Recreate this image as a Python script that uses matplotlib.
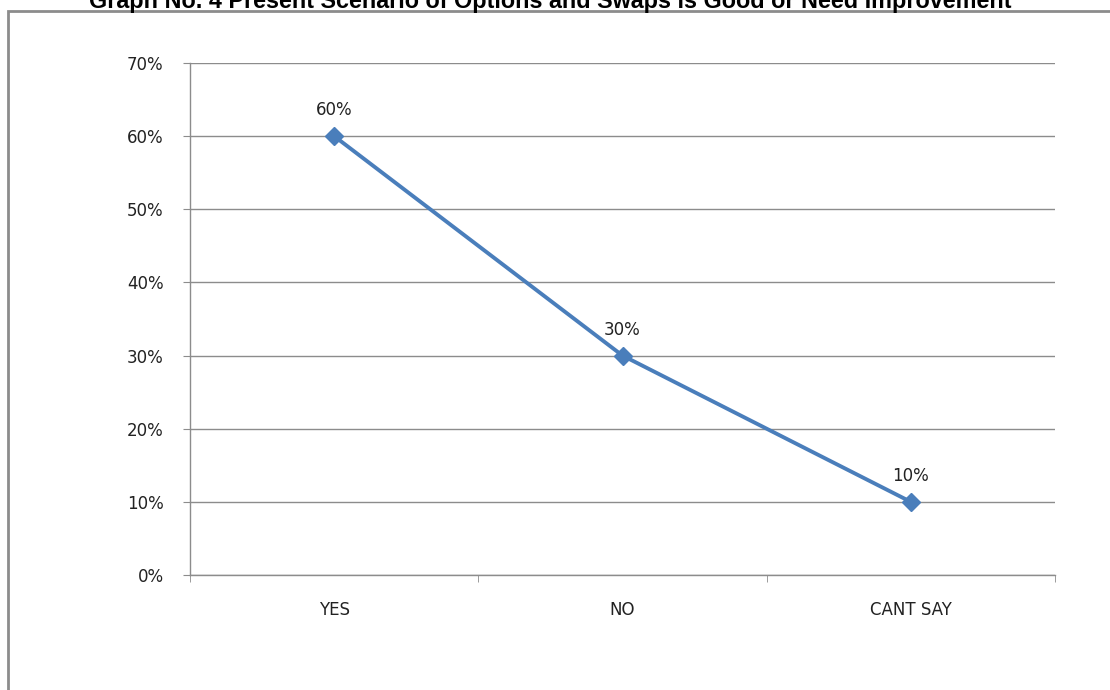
import matplotlib
matplotlib.use("Agg")
import matplotlib.pyplot as plt
from matplotlib.patches import Rectangle
from matplotlib.ticker import FixedLocator, PercentFormatter

categories = ["YES", "NO", "CANT SAY"]
values = [60, 30, 10]
y_ticks = [0, 10, 20, 30, 40, 50, 60, 70]
title = "Graph No. 4 Present Scenario of Options and Swaps is Good or Need Improvement"

W, H = 1110, 690
LABEL_FONT = "DejaVu Sans"
fig = plt.figure(figsize=(W / 100, H / 100), dpi=100)

# outer chart frame (extends past right and bottom edges)
fig.patches.append(Rectangle((8 / W, -0.1), 1.2, 1 - 11 / H + 0.1,
                             transform=fig.transFigure, fill=False,
                             edgecolor="#8c8c8c", linewidth=2, zorder=0))

fig.text(550 / W, 1 - 8 / H, title, ha="center", va="baseline",
         fontsize=16.8, fontweight="bold", family="Liberation Sans", color="black")

ax = fig.add_axes([190 / W, 1 - 575 / H, (1055 - 190) / W, (575 - 63) / H])
x = list(range(len(categories)))
ax.plot(x, values, color="#4a7ebb", linewidth=2.8, marker="D", markersize=9,
        markeredgecolor="#4a7ebb", zorder=3, clip_on=False)
for xi, v in zip(x, values):
    ax.annotate(f"{v}%", (xi, v), xytext=(0, 12), textcoords="offset points",
                ha="center", va="bottom", fontsize=12, family=LABEL_FONT,
                color="#222222")

ax.set_xlim(-0.5, len(categories) - 0.5)
ax.set_ylim(0, 70)
ax.yaxis.set_major_locator(FixedLocator(y_ticks))
ax.yaxis.set_major_formatter(PercentFormatter(decimals=0))
ax.grid(axis="y", color="#8c8c8c", linewidth=1)
ax.set_axisbelow(True)

ax.set_xticks(x)
ax.set_xticklabels(categories)
ax.xaxis.set_minor_locator(FixedLocator([-0.5, 0.5, 1.5, 2.5]))
ax.tick_params(axis="x", which="major", length=0, pad=19)
ax.tick_params(axis="x", which="minor", length=5, color="#8c8c8c", direction="out")
ax.tick_params(axis="y", length=5, color="#8c8c8c", pad=14, direction="out")
for lab in ax.get_xticklabels() + ax.get_yticklabels():
    lab.set_fontfamily(LABEL_FONT)
    lab.set_fontsize(12)
    lab.set_color("#222222")

for s in ["top", "right"]:
    ax.spines[s].set_visible(False)
for s in ["left", "bottom"]:
    ax.spines[s].set_color("#8c8c8c")
    ax.spines[s].set_linewidth(1)

fig.savefig("out.png", dpi=100)
